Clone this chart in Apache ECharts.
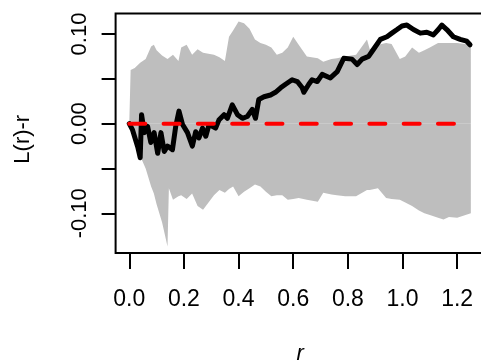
<!DOCTYPE html>
<html><head><meta charset="utf-8">
<script src="https://cdn.jsdelivr.net/npm/echarts@6/dist/echarts.min.js"></script>
<style>html,body{margin:0;padding:0;background:#fff}#c{width:481px;height:360px}</style>
</head><body><div id="c"></div>
<script>
// Observed L(r)-r
const rObs = [0,0.012,0.031,0.040,0.045,0.055,0.067,0.079,0.091,0.104,0.116,0.128,0.140,0.158,0.170,0.182,0.195,0.213,0.231,0.243,0.255,0.268,0.280,0.292,0.316,0.328,0.347,0.359,0.377,0.396,0.414,0.432,0.450,0.462,0.474,0.493,0.517,0.535,0.554,0.572,0.596,0.615,0.633,0.639,0.657,0.669,0.688,0.706,0.736,0.761,0.785,0.815,0.834,0.852,0.876,0.894,0.919,0.943,0.961,0.980,0.998,1.016,1.040,1.065,1.089,1.113,1.131,1.144,1.162,1.186,1.211,1.235,1.247];
const obs  = [0,-0.007,-0.026,-0.038,0.010,-0.010,-0.003,-0.021,-0.010,-0.033,-0.010,-0.031,-0.025,-0.029,-0.003,0.014,-0.001,-0.010,-0.025,-0.009,-0.016,-0.005,-0.014,-0.001,-0.005,0.004,0.010,0.006,0.021,0.010,0.006,0.008,0.016,0.006,0.027,0.030,0.032,0.035,0.040,0.044,0.049,0.047,0.040,0.035,0.044,0.049,0.047,0.055,0.051,0.058,0.073,0.072,0.066,0.072,0.075,0.083,0.094,0.097,0.101,0.105,0.109,0.110,0.105,0.101,0.102,0.099,0.105,0.110,0.105,0.097,0.094,0.092,0.088];
// Simulation envelope
const rEnv  = [0,0.005,0.02,0.04,0.06,0.08,0.09,0.10,0.12,0.14,0.145,0.16,0.18,0.19,0.21,0.23,0.25,0.27,0.29,0.31,0.33,0.35,0.365,0.38,0.40,0.42,0.44,0.46,0.48,0.50,0.52,0.54,0.56,0.58,0.60,0.62,0.65,0.69,0.71,0.74,0.76,0.79,0.83,0.87,0.88,0.91,0.94,0.96,0.99,1.01,1.035,1.06,1.08,1.10,1.13,1.15,1.17,1.20,1.25];
const upper = [0,0.060,0.062,0.068,0.072,0.086,0.088,0.082,0.076,0.072,0.073,0.077,0.070,0.085,0.088,0.077,0.083,0.079,0.078,0.077,0.074,0.070,0.097,0.104,0.114,0.112,0.106,0.094,0.090,0.088,0.085,0.077,0.079,0.085,0.097,0.088,0.075,0.073,0.069,0.072,0.073,0.075,0.077,0.094,0.083,0.088,0.090,0.089,0.072,0.075,0.085,0.079,0.082,0.085,0.090,0.090,0.090,0.090,0.088];
const lower = [0,-0.003,-0.015,-0.036,-0.050,-0.070,-0.078,-0.090,-0.110,-0.137,-0.072,-0.085,-0.081,-0.080,-0.084,-0.078,-0.092,-0.096,-0.088,-0.080,-0.074,-0.077,-0.073,-0.070,-0.081,-0.076,-0.072,-0.068,-0.070,-0.076,-0.081,-0.080,-0.080,-0.085,-0.084,-0.083,-0.085,-0.087,-0.077,-0.079,-0.080,-0.081,-0.081,-0.074,-0.074,-0.072,-0.083,-0.084,-0.085,-0.088,-0.092,-0.097,-0.100,-0.102,-0.105,-0.107,-0.104,-0.105,-0.100];
// Theoretical
const rTheo = [0,1.25];
const theo  = [0,0];
// Axis ticks
const xTicks = [0,0.2,0.4,0.6,0.8,1.0,1.2];
const yTicks = [-0.10,-0.05,0,0.05,0.10];
const yLabels = [-0.10,0,0.10];

const zip = (a,b) => a.map((v,i)=>[v,b[i]]);
const font = 'Liberation Sans, Arial, sans-serif';
const chart = echarts.init(document.getElementById('c'), null, {renderer:'canvas'});
chart.setOption({
  animation:false,
  grid:{left:115.6, top:13.5, width:368.9, height:239.5, show:true, borderColor:'#000', borderWidth:2, backgroundColor:'transparent', containLabel:false, outerBoundsMode:'none'},
  xAxis:{type:'value', min:-0.05, max:1.30,
    name:'r', nameLocation:'middle', nameGap:90,
    nameTextStyle:{fontFamily:font, fontSize:22, fontStyle:'italic', color:'#000'},
    axisLine:{show:false, onZero:false}, splitLine:{show:false},
    axisTick:{show:true, inside:false, length:16, customValues:xTicks, lineStyle:{color:'#000', width:2}},
    axisLabel:{customValues:xTicks, margin:35, fontFamily:font, fontSize:23, color:'#000', formatter:v=>v.toFixed(1)}},
  yAxis:{type:'value', min:-0.1443, max:0.1229,
    name:'L(r)-r', nameLocation:'middle', nameGap:81.5, nameMoveOverlap:false,
    nameTextStyle:{fontFamily:font, fontSize:22, color:'#000', padding:[0,12,0,0]},
    axisLine:{show:false, onZero:false}, splitLine:{show:false},
    axisTick:{show:true, length:14, customValues:yTicks, lineStyle:{color:'#000', width:2}},
    axisLabel:{customValues:yLabels, rotate:90, margin:25, fontFamily:font, fontSize:22, color:'#000', formatter:v=>v.toFixed(2)}},
  series:[
    {type:'line', data:zip(rEnv,upper), symbol:'none', lineStyle:{width:0, opacity:0}, areaStyle:{color:'#BEBEBE', opacity:1, origin:0}, silent:true},
    {type:'line', data:zip(rEnv,lower), symbol:'none', lineStyle:{width:0, opacity:0}, areaStyle:{color:'#BEBEBE', opacity:1, origin:0}, silent:true},
    {type:'line', data:zip(rObs,obs), symbol:'none', lineStyle:{color:'#000', width:5, join:'round', cap:'round'}},
    {type:'line', data:zip(rTheo,theo), symbol:'none', lineStyle:{color:'#FF0000', width:4, type:[16,18.3], cap:'round'}}
  ]
});
</script></body></html>
